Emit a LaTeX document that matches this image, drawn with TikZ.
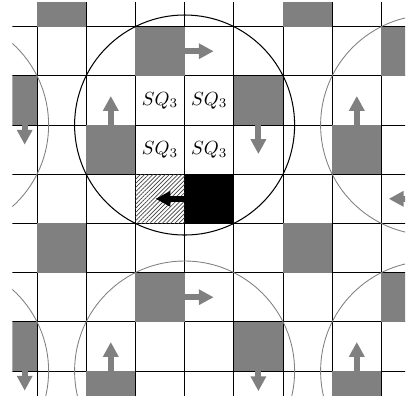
\documentclass[tikz,border=0pt]{standalone}
\usetikzlibrary{arrows.meta, patterns.meta}

\begin{document}
\begin{tikzpicture}[
    graycell/.style={fill=black!50},
    orbit/.style={black!50, line width=0.5pt},
    mover/.style={black!50, line width=3.5pt, -{Triangle[width=8.6pt, length=8.6pt]}},
  ]
    \useasboundingbox (-0.752,-0.549) rectangle (7.561,7.541);

    \begin{scope}
    \clip (-0.5,-0.5) rectangle (7.48,7.48);

    % 1. Grid of unit cells
    \foreach \i in {0,...,7} {
        \draw[black, line width=0.5pt] (\i,-0.5) -- (\i,7.5);
        \draw[black, line width=0.5pt] (-0.5,\i) -- (7.5,\i);
    }

    % 2. Occupied cells (lower left corners)
    \foreach \x/\y in {0/7, 2/6, 5/7, 7/6, -1/5, 1/4, 4/5, 6/4,
                       0/2, 5/2, 2/1, 7/1, -1/0, 4/0, 1/-1, 6/-1}
        \fill[graycell] (\x,\y) rectangle ++(1,1);

    % The moving cell and its target
    \fill[black] (3,3) rectangle ++(1,1);
    \fill[pattern={Lines[angle=45, distance=1.7pt, line width=0.4pt]},
          pattern color=black!75] (2,3) rectangle ++(1,1);

    % 3. Neighbourhood circles
    \coordinate (O) at (3,5);
    \draw[black, line width=0.6pt] (O) circle ({sqrt(5)});
    \foreach \x/\y in {-2/5, 8/5, -2/0, 3/0, 8/0}
        \draw[orbit] (\x,\y) circle ({sqrt(5)});

    % 4. Labels of the central block
    \node[scale=1.1] (sq-a) at (2.5,5.5) {$SQ_3$};
    \node[scale=1.1] (sq-b) at (3.5,5.5) {$SQ_3$};
    \node[scale=1.1] (sq-c) at (2.5,4.5) {$SQ_3$};
    \node[scale=1.1] (sq-d) at (3.5,4.5) {$SQ_3$};

    % 5. Moves
    \draw[mover] (3,6.5) -- (3.59,6.5);
    \draw[mover] (4.5,5) -- (4.5,4.41);
    \draw[mover] (1.5,5) -- (1.5,5.59);
    \draw[mover, black] (3,3.5) -- (2.41,3.5);
    \draw[mover] (6.5,5) -- (6.5,5.59);
    \draw[mover] (7.6,3.5) -- (7.15,3.5);
    \draw[mover] (-0.25,5) -- (-0.25,4.6);
    \draw[mover] (3,1.5) -- (3.59,1.5);
    \draw[mover] (4.5,0) -- (4.5,-0.41);
    \draw[mover] (1.5,0) -- (1.5,0.59);
    \draw[mover] (6.5,0) -- (6.5,0.59);
    \draw[mover] (-0.25,0) -- (-0.25,-0.4);
    \end{scope}
\end{tikzpicture}
\end{document}
